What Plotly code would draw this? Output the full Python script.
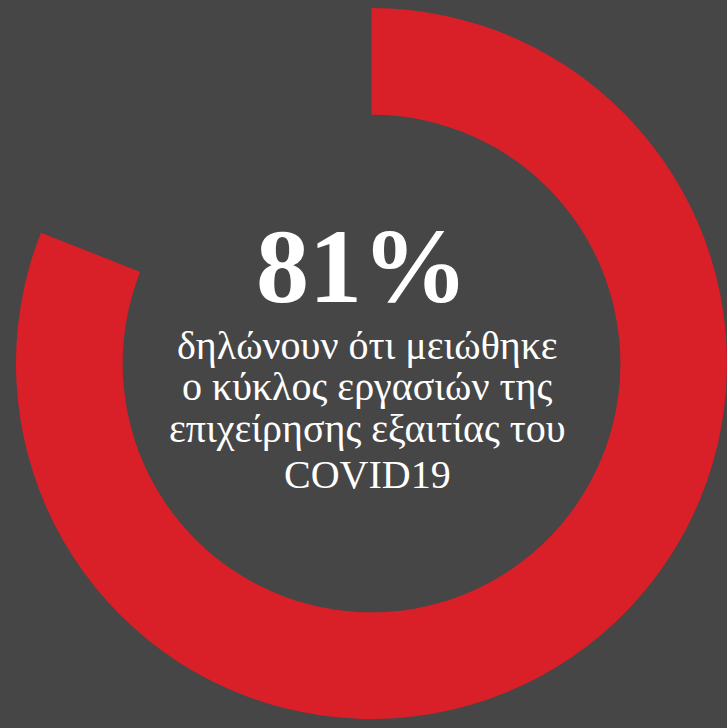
import plotly.graph_objects as go

labels = ["Μειώθηκε", "Υπόλοιπο"]
values = [81, 19]
headline = "81%"
caption_lines = [
    "δηλώνουν ότι μειώθηκε",
    "ο κύκλος εργασιών της",
    "επιχείρησης εξαιτίας του",
    "COVID19",
]

BG = "#464646"
RED = "#D91F28"
W, H = 727, 728

fig = go.Figure(go.Pie(
    labels=labels,
    values=values,
    hole=0.70,
    sort=False,
    direction="clockwise",
    rotation=0,
    marker=dict(colors=[RED, "rgba(0,0,0,0)"], line=dict(width=0)),
    textinfo="none",
    hoverinfo="skip",
    showlegend=False,
    domain=dict(x=[16 / W, 1], y=[1 - 721 / H, 1 - 6 / H]),
))

annotations = [dict(
    text=f"<b>{headline}</b>", x=362 / W, y=1 - 266 / H, xref="paper", yref="paper",
    xanchor="center", yanchor="middle", showarrow=False,
    font=dict(family="Liberation Serif", size=106, color="white"),
)]
centers_y = [345, 386, 428, 474]
for line, cy in zip(caption_lines, centers_y):
    annotations.append(dict(
        text=line, x=367 / W, y=1 - cy / H, xref="paper", yref="paper",
        xanchor="center", yanchor="middle", showarrow=False,
        font=dict(family="Liberation Serif", size=40, color="white"),
    ))

fig.update_layout(
    width=W, height=H,
    margin=dict(l=0, r=0, t=0, b=0),
    paper_bgcolor=BG, plot_bgcolor=BG,
    annotations=annotations,
)

fig.write_html(
    "out.html",
    config={"displayModeBar": False, "staticPlot": True},
    post_script="document.body.style.margin='0';document.body.style.background='%s';" % BG,
)
